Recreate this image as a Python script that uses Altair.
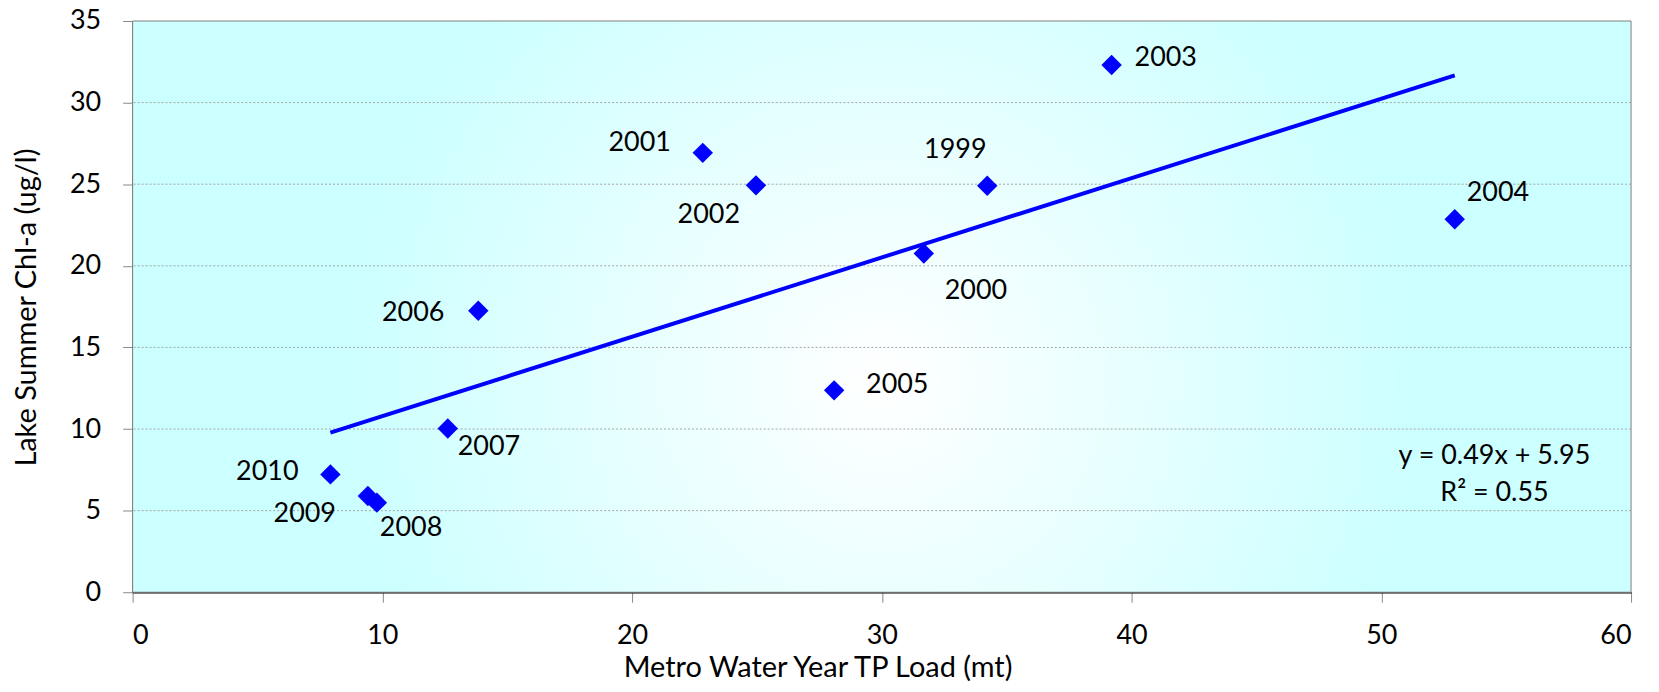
import altair as alt
import pandas as pd

# ---------------- data ----------------
years = ["1999", "2000", "2001", "2002", "2003", "2004",
         "2005", "2006", "2007", "2008", "2009", "2010"]
tp_load = [34.22, 31.68, 22.83, 24.96, 39.20, 52.94,
           28.09, 13.84, 12.62, 9.78, 9.42, 7.92]
chl_a = [24.90, 20.76, 26.92, 24.93, 32.30, 22.85,
         12.37, 17.25, 10.03, 5.49, 5.90, 7.22]
x_ticks = [0, 10, 20, 30, 40, 50, 60]
y_ticks = [0, 5, 10, 15, 20, 25, 30, 35]
grid_values = [5, 10, 15, 20, 25, 30]
equation_lines = ["y = 0.49x + 5.95", "R\u00b2 = 0.55"]
x_title = "Metro Water Year TP Load (mt)"
y_title = "Lake Summer Chl-a (ug/l)"

df = pd.DataFrame({"year": years, "tp_load": tp_load, "chl_a": chl_a})

# ---------------- styling ----------------
W, H = 1503, 573
FONT = "Lato"
FS = 27
BLUE = "#0000FF"

# label placement relative to its point: (align, dx, dy)
LABEL_PLACEMENT = {
    "1999": ("center", -32, -38),
    "2000": ("left", 21, 36),
    "2001": ("right", -32, -12),
    "2002": ("right", -16, 28),
    "2003": ("left", 23, -9),
    "2004": ("left", 12, -28),
    "2005": ("left", 32, -7),
    "2006": ("right", -34, 0),
    "2007": ("left", 10, 17),
    "2008": ("left", 3, 23),
    "2009": ("right", -32, 16),
    "2010": ("right", -32, -4),
}

xs = alt.Scale(domain=[0, 60], nice=False, zero=False)
ys = alt.Scale(domain=[0, 35], nice=False)
X = alt.X("tp_load:Q", scale=xs, title=x_title, axis=alt.Axis(values=x_ticks))
Y = alt.Y("chl_a:Q", scale=ys, title=y_title, axis=alt.Axis(values=y_ticks))

one_row = alt.Data(values=[{"k": 0}])

bg = alt.Chart(one_row).mark_rect(
    fill=alt.RadialGradient(
        gradient="radial",
        stops=[alt.GradientStop(offset=0, color="#FFFFFF"),
               alt.GradientStop(offset=1, color="#CCFFFF")],
        x1=0.5, y1=0.55, r1=0, x2=0.5, y2=0.55, r2=0.36,
    ),
    stroke="#7F7F7F", strokeWidth=1,
).encode(x=alt.value(0), x2=alt.value(W), y=alt.value(0), y2=alt.value(H))

grid = alt.Chart(pd.DataFrame({"v": grid_values})).mark_rule(
    color="#A6A6A6", strokeWidth=1, strokeDash=[2, 2]
).encode(y=alt.Y("v:Q", scale=ys, title=y_title, axis=alt.Axis(values=y_ticks)))

trend = alt.Chart(df).transform_regression("tp_load", "chl_a").mark_line(
    color=BLUE, strokeWidth=4
).encode(x=X, y=Y)

points = alt.Chart(df).mark_point(
    shape="diamond", filled=True, size=420, color=BLUE, opacity=1
).encode(x=X, y=Y)

labels = []
for yr, (align, dx, dy) in LABEL_PLACEMENT.items():
    labels.append(
        alt.Chart(df).transform_filter(alt.datum.year == yr).mark_text(
            align=align, baseline="middle", dx=dx, dy=dy + 2,
            font=FONT, fontSize=FS, color="black"
        ).encode(x=X, y=Y, text="year:N")
    )

eq = alt.Chart(one_row).mark_text(
    align="center", baseline="alphabetic", font=FONT, fontSize=FS,
    lineHeight=37.5, color="black"
).encode(x=alt.value(1366), y=alt.value(444), text=alt.value(equation_lines))

chart = alt.layer(bg, grid, trend, points, *labels, eq).properties(
    width=W, height=H,
    autosize=alt.AutoSizeParams(type="none"),
    padding={"left": 125, "top": 12, "right": 20, "bottom": 91},
).configure_view(stroke=None).configure_axis(
    labelFont=FONT, labelFontSize=FS, labelColor="black",
    titleFont=FONT, titleFontSize=29, titleFontWeight="normal", titleColor="black",
    tickColor="#888888", tickSize=10, tickWidth=1,
    domainColor="black", domainWidth=1.5, grid=False, zindex=1,
).configure_axisX(
    labelPadding=20, titleX=687, titleY=85, titleAlign="center",
    titleBaseline="alphabetic"
).configure_axisY(
    labelPadding=22, titleX=-97, titleY=287, titleBaseline="alphabetic", titleAngle=270
)

chart.save("out.html", embed_options={"renderer": "svg", "actions": False})
